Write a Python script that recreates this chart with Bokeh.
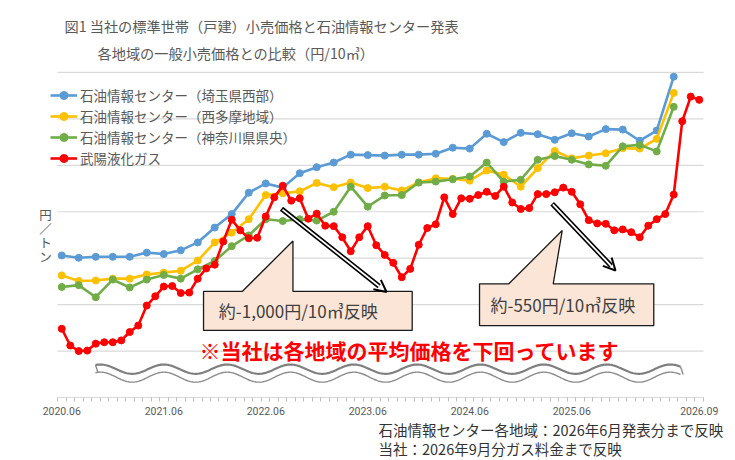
import numpy as np
from bokeh.plotting import figure
from bokeh.models import (Range1d, FixedTicker, Label, Legend, LegendItem, Arrow, OpenHead, Title)
from bokeh.embed import file_html
from bokeh.resources import INLINE

# ---------------- data (yen / 10m3) ----------------
# month index 0 = 2020.06 ... 75 = 2026.09
x_monthly = list(range(76))
x_bimonthly = list(range(0, 73, 2))

saitama_west = [7030, 7005, 7015, 7015, 7015, 7060, 7045, 7085, 7170, 7330,
                7475, 7705, 7805, 7760, 7915, 7980, 8030, 8115, 8110, 8105,
                8115, 8115, 8125, 8190, 8180, 8340, 8250, 8350, 8335, 8275,
                8345, 8310, 8390, 8385, 8265, 8375, 8955]
nishitama = [6815, 6755, 6760, 6780, 6780, 6825, 6845, 6865, 6975, 7170,
             7275, 7420, 7680, 7700, 7720, 7810, 7765, 7815, 7755, 7770,
             7730, 7815, 7860, 7855, 7835, 7945, 7900, 7770, 7970, 8155,
             8075, 8105, 8130, 8185, 8180, 8285, 8780]
kanagawa = [6690, 6710, 6580, 6770, 6685, 6770, 6820, 6780, 6880, 6970,
            7130, 7245, 7420, 7400, 7420, 7405, 7500, 7770, 7555, 7675,
            7680, 7815, 7825, 7850, 7880, 8030, 7825, 7845, 8060, 8100,
            8060, 8010, 7995, 8205, 8220, 8150, 8630]
buyo = [6240, 6060, 6000, 6005, 6080, 6095, 6095, 6115, 6205, 6275,
        6490, 6590, 6695, 6700, 6625, 6630, 6780, 6890, 6930, 7180,
        7415, 7300, 7215, 7220, 7450, 7655, 7780, 7620, 7645, 7425,
        7480, 7350, 7345, 7225, 7075, 7225, 7345, 7140, 7035, 6950,
        6795, 6885, 7145, 7325, 7365, 7655, 7475, 7645, 7640, 7680,
        7715, 7670, 7770, 7600, 7530, 7540, 7690, 7690, 7710, 7760,
        7715, 7580, 7410, 7375, 7370, 7300, 7310, 7280, 7225, 7350,
        7420, 7475, 7685, 8475, 8740, 8705]

tick_idx = [0, 12, 24, 36, 48, 60, 75]
tick_labels = ["2020.06", "2021.06", "2022.06", "2023.06", "2024.06", "2025.06", "2026.09"]
grid_vals = [6000, 6500, 7000, 7500, 8000, 8500, 9000]

series_names = ["石油情報センター（埼玉県西部）", "石油情報センター（西多摩地域）",
                "石油情報センター（神奈川県県央）", "武陽液化ガス"]
series_colors = ["#5B9BD5", "#FFC000", "#70AD47", "#FF0000"]

JP = "Noto Sans CJK JP"
X0, X1 = -0.5, 75.5          # category axis extent
Y0 = 5500                    # axis (break) baseline value

# ---------------- figure ----------------
p = figure(width=735, height=460, output_backend="svg", toolbar_location=None,
           x_range=Range1d(-7.206, 79.265), y_range=Range1d(Y0, 9775),
           min_border_left=0, min_border_right=0, min_border_top=0, min_border_bottom=63)
p.outline_line_color = None
p.background_fill_color = "white"
p.border_fill_color = "white"
p.yaxis.visible = False
p.xgrid.visible = False
p.ygrid.visible = False

# horizontal gridlines over the category extent
p.segment([X0] * len(grid_vals), grid_vals, [X1] * len(grid_vals), grid_vals,
          line_color="#D9D9D9", line_width=1.2)

xa = p.xaxis[0]
xa.bounds = (X0, X1)
xa.ticker = FixedTicker(ticks=tick_idx, minor_ticks=[i - 0.5 for i in range(77)])
xa.major_label_overrides = {k: v for k, v in zip(tick_idx, tick_labels)}
xa.axis_line_color = "#D9D9D9"
xa.axis_line_width = 1.2
xa.major_tick_line_color = None
xa.major_tick_out = 4
xa.major_tick_in = 0
xa.minor_tick_line_color = "#BFBFBF"
xa.minor_tick_out = 4
xa.minor_tick_in = 0
xa.major_label_standoff = 5
xa.major_label_text_font = "Roboto"
xa.major_label_text_font_size = "10.5px"
xa.major_label_text_color = "#595959"

# ---------------- series ----------------
items = []
xs_list = [x_bimonthly, x_bimonthly, x_bimonthly, x_monthly]
ys_list = [saitama_west, nishitama, kanagawa, buyo]
for name, col, xs, ys in zip(series_names, series_colors, xs_list, ys_list):
    l = p.line(xs, ys, line_color=col, line_width=2.6)
    s = p.scatter(xs, ys, marker="circle", size=7, fill_color=col, line_color=col)
    items.append(LegendItem(label=name, renderers=[l, s]))

legend = Legend(items=items, location=(50, 229), padding=0, margin=0, spacing=1,
                glyph_width=27, glyph_height=20, label_height=20, label_standoff=3,
                label_text_font=JP, label_text_font_size="13.5px",
                label_text_color="#595959", background_fill_alpha=0,
                border_line_color=None)
p.add_layout(legend)

# ---------------- wave (axis break) decoration ----------------
wx = np.linspace(3.97, 72.8, 500)
ph = np.cos(2 * np.pi * (wx - 4.56) / 7.45)
w_top = 5805 + 50 * ph
w_bot = 5719 + 54 * ph
p.patch(list(wx) + list(wx[::-1]), list(w_top) + list(w_bot[::-1]),
        fill_color="white", line_color=None)
p.line(wx, w_top, line_color="#7F7F7F", line_width=2.2)
p.line(wx, w_bot, line_color="#8C8C8C", line_width=1.4)
p.segment([wx[0], wx[-1]], [w_top[0], w_top[-1]], [wx[0] + 0.3, wx[-1] + 0.3],
          [w_bot[0], w_bot[-1]], line_color="#8C8C8C", line_width=1.4)

# ---------------- callouts ----------------
c1x = [16.68, 21.23, 27.2, 27.2, 41.23, 41.23, 16.68]
c1y = [6642, 6642, 7185, 6642, 6642, 6222, 6222]
c2x = [49.15, 52.6, 58.88, 57.82, 69.65, 69.65, 49.15]
c2y = [6724, 6724, 7298, 6724, 6724, 6275, 6275]
for cx, cy in [(c1x, c1y), (c2x, c2y)]:
    p.patch(cx, cy, fill_color="#FBE5D6", line_color="#1A1A1A", line_width=1.3)

p.add_layout(Label(x=18.48, y=6437, text="約-1,000円/10㎥反映", text_baseline="middle",
                   text_font=JP, text_font_size="17px", text_color="#404040"))
p.add_layout(Label(x=50.44, y=6502, text="約-550円/10㎥反映", text_baseline="middle",
                   text_font=JP, text_font_size="17px", text_color="#404040"))

# ---------------- double-line arrows ----------------
arrows = [(25.85, 7532, 38.21, 6636), (57.7, 7586, 65.15, 6868)]
for xs0, ys0, xe, ye in arrows:
    fx = xs0 + (xe - xs0) * 0.93
    fy = ys0 + (ye - ys0) * 0.93
    p.segment([xs0], [ys0], [fx], [fy], line_color="black", line_width=5)
    p.segment([xs0 + (xe - xs0) * 0.01], [ys0 + (ye - ys0) * 0.01], [fx], [fy],
              line_color="white", line_width=1.8)
    p.add_layout(Arrow(x_start=xs0, y_start=ys0, x_end=xe, y_end=ye, line_alpha=0,
                       end=OpenHead(size=12, line_color="black", line_width=2)))

# ---------------- texts (screen units: from frame left / frame bottom) ----------------
p.add_layout(Label(x=64, y=372, x_units="screen", y_units="screen",
                   text="図1 当社の標準世帯（戸建）小売価格と石油情報センター発表",
                   text_baseline="middle", text_font=JP, text_font_size="14.2px",
                   text_color="#595959"))
p.add_layout(Label(x=97, y=345, x_units="screen", y_units="screen",
                   text="各地域の一般小売価格との比較（円/10㎥）",
                   text_baseline="middle", text_font=JP, text_font_size="14.2px",
                   text_color="#595959"))
p.add_layout(Label(x=45, y=162, x_units="screen", y_units="screen",
                   text="円\n／\nト\nン", text_align="center", text_baseline="middle",
                   text_font=JP, text_font_size="12.5px", text_line_height=0.72,
                   text_color="#595959"))
p.add_layout(Label(x=409, y=48, x_units="screen", y_units="screen",
                   text="※当社は各地域の平均価格を下回っています", text_align="center",
                   text_baseline="middle", text_font=JP, text_font_size="21px",
                   text_font_style="bold", text_color="#FF0000"))

# notes below the axis (one two-line title)
p.add_layout(Title(text="石油情報センター各地域：2026年6月発表分まで反映\n当社：2026年9月分ガス料金まで反映",
                   align="left", offset=378, standoff=0, text_line_height=0.92,
                   text_font=JP, text_font_size="14.5px",
                   text_font_style="normal", text_color="#333333"), "below")

open("out.html", "w").write(file_html(p, INLINE))
